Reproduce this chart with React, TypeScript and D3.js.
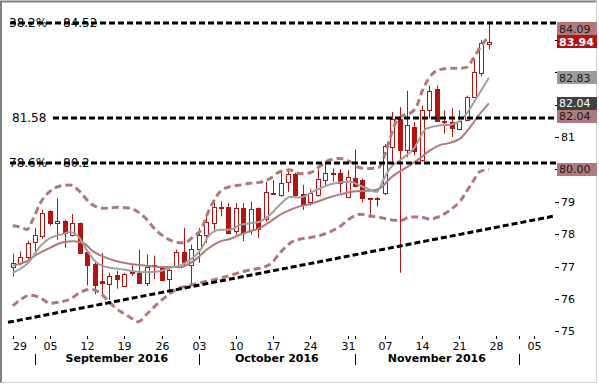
import React from 'react';
import * as d3 from 'd3';

const W = 599;
const H = 385;

// daily candles, trading days 29 Aug 2016 .. 25 Nov 2016
const opens = [
  77.0, 77.12, 77.3, 77.75, 77.93, 78.72, 78.36, 78.42, 77.99, 78.34,
  77.44, 77.07, 76.57, 76.47, 76.73, 76.4, 76.85, 76.81, 76.48, 77.02,
  76.96, 76.61, 77.0, 77.46, 77.04, 77.53, 77.99, 78.36, 78.85, 78.84,
  78.09, 78.81, 78.14, 78.81, 78.47, 79.26, 79.21, 79.6, 79.85, 79.24,
  78.98, 79.21, 79.67, 79.88, 79.88, 79.16, 79.73, 79.67, 79.12, 79.12,
  79.27, 80.7, 81.57, 80.59, 81.31, 80.29, 81.84, 82.49, 81.51, 81.46,
  81.26, 81.54, 82.25, 82.98, 83.87,
];
const highs = [
  77.4, 77.47, 77.8, 78.19, 78.75, 78.74, 79.11, 78.45, 78.62, 78.36,
  77.46, 77.17, 77.42, 76.81, 76.86, 76.81, 77.07, 77.53, 77.37, 77.34,
  77.01, 76.96, 77.53, 78.19, 77.68, 78.19, 78.55, 79.01, 79.01, 78.96,
  78.96, 78.96, 79.01, 78.83, 79.62, 79.67, 79.98, 80.03, 79.9, 79.52,
  79.39, 80.0, 80.19, 80.03, 80.0, 79.98, 80.62, 79.72, 79.13, 79.15,
  80.78, 81.77, 81.92, 82.43, 81.46, 81.97, 82.59, 82.59, 81.82, 81.89,
  81.82, 82.28, 83.43, 84.0, 84.58,
];
const lows = [
  76.69, 77.04, 77.22, 77.44, 77.86, 78.27, 77.83, 77.58, 77.93, 77.4,
  76.42, 76.15, 76.15, 75.97, 76.32, 76.38, 76.71, 76.46, 76.4, 76.61,
  76.56, 76.3, 76.98, 77.0, 76.45, 77.12, 77.73, 78.09, 78.55, 78.02,
  77.99, 77.78, 77.99, 77.88, 78.39, 79.21, 79.16, 79.31, 79.16, 78.75,
  78.88, 79.16, 79.47, 79.62, 79.28, 79.14, 79.47, 78.98, 78.5, 78.85,
  79.2, 80.24, 76.81, 80.38, 80.44, 80.24, 81.57, 81.46, 81.11, 81.0,
  81.21, 81.51, 82.23, 82.87, 83.71,
];
const closes = [
  77.12, 77.3, 77.73, 77.99, 78.65, 78.36, 78.4, 78.04, 78.34, 77.42,
  77.04, 76.42, 76.48, 76.71, 76.61, 76.78, 76.81, 76.48, 77.0, 77.04,
  76.58, 76.89, 77.44, 77.14, 77.55, 77.99, 78.39, 78.85, 78.83, 78.04,
  78.81, 78.04, 78.77, 78.16, 79.31, 79.24, 79.57, 79.85, 79.21, 78.91,
  79.28, 79.69, 79.9, 79.86, 79.59, 79.76, 79.49, 79.11, 79.1, 79.1,
  80.72, 81.57, 80.59, 81.36, 80.57, 81.84, 82.43, 81.51, 81.48, 81.28,
  81.51, 82.25, 83.0, 83.9, 83.94,
];

// indicator lines: [trading day index, value]
const fastMa: [number, number][] = [
  [0, 76.81], [2.3, 77.17], [3.7, 77.63], [5, 77.88], [6.8, 78.01], [7.7, 78.07],
  [9, 77.88], [9.9, 77.53], [11.3, 77.12], [13.1, 76.96], [14.4, 76.93], [16.2, 76.86],
  [18, 76.83], [19.8, 76.86], [21.1, 76.96], [22.5, 77.04], [23.8, 77.2], [25.2, 77.5],
  [26.5, 77.99], [27.9, 78.14], [29.2, 78.14], [30.6, 78.29], [31.9, 78.34], [33.2, 78.39],
  [34.6, 78.6], [35.9, 78.91], [37.3, 79.15], [38.6, 79.13], [40.4, 79.32], [42.2, 79.5],
  [43.5, 79.58], [45.3, 79.62], [46.7, 79.5], [47.6, 79.42], [48.9, 79.3], [49.8, 79.67],
  [50.7, 80.03], [52.1, 80.29], [53.9, 80.64], [55.6, 81.26], [57.4, 81.36], [58.8, 81.38],
  [59.9, 81.46], [61, 81.72], [62.4, 82.23], [64, 82.83],
];
const midLine: [number, number][] = [
  [0, 77.03], [1.9, 77.17], [3.2, 77.37], [5, 77.58], [6.8, 77.75], [8.2, 77.78],
  [9.5, 77.73], [10.8, 77.47], [12.6, 77.27], [14.4, 77.14], [16.2, 77.07], [18, 77.03],
  [19.8, 76.99], [21.6, 76.99], [22.5, 76.98], [24.3, 77.17], [26.1, 77.53], [27.9, 77.78],
  [29.2, 77.85], [30.6, 77.99], [31.9, 78.09], [33.2, 78.19], [34.6, 78.39], [35.9, 78.6],
  [37.3, 78.75], [38.6, 78.86], [40.4, 78.96], [42.2, 79.11], [44, 79.23], [45.8, 79.32],
  [47.6, 79.34], [48.9, 79.37], [49.8, 79.5], [50.7, 79.72], [52.1, 79.95], [53.4, 80.13],
  [54.7, 80.34], [56.1, 80.59], [57.4, 80.75], [58.8, 80.82], [60.1, 80.95], [61.5, 81.31],
  [62.8, 81.72], [64, 82.04],
];
const upperBand: [number, number][] = [
  [0, 78.26], [1.4, 78.19], [1.9, 78.14], [2.8, 78.5], [3.7, 78.96], [5, 79.32],
  [6.4, 79.49], [7.7, 79.52], [9, 79.32], [10.4, 78.96], [12.2, 78.8], [14, 78.83],
  [15.8, 78.8], [17.6, 78.55], [19.4, 78.09], [21.6, 77.78], [23, 77.73], [24.3, 77.93],
  [25.2, 78.1], [26.5, 78.8], [27.9, 79.32], [29.2, 79.47], [30.6, 79.52], [31.9, 79.57],
  [33.2, 79.6], [34.6, 79.72], [35.9, 79.93], [37.3, 79.98], [38.6, 79.87], [40, 79.9],
  [41.3, 80.1], [42.7, 80.3], [44, 80.34], [45.3, 80.24], [46.7, 80.05], [48, 80.03],
  [49.2, 80.06], [50, 80.45], [50.7, 80.95], [51.6, 81.5], [52.5, 81.67], [53.5, 81.75],
  [54.3, 81.95], [55, 82.4], [55.9, 82.8], [57, 83.05], [58.5, 83.12], [60, 83.12],
  [61, 83.15], [61.9, 83.42], [62.8, 83.76], [63.7, 84.02], [64, 84.09],
];
const lowerBand: [number, number][] = [
  [0, 75.79], [1, 75.97], [2.3, 76.12], [3.7, 76.04], [5, 75.87], [6.4, 75.91],
  [7.7, 75.99], [9, 76.2], [10.4, 76.3], [11.7, 76.2], [13.1, 75.87], [14.4, 75.63],
  [15.8, 75.43], [16.9, 75.3], [18, 75.53], [19.4, 75.84], [20.7, 76.09], [22, 76.3],
  [23.4, 76.4], [25.2, 76.5], [28, 76.65], [31, 76.85], [34.6, 77.07], [35.9, 77.42],
  [37.3, 77.73], [38.6, 77.85], [40, 77.9], [41.3, 77.96], [42.7, 78.08], [44, 78.24],
  [45.3, 78.48], [46.7, 78.62], [48, 78.56], [49.4, 78.52], [50.7, 78.45], [52.1, 78.42],
  [53.4, 78.53], [54.7, 78.53], [56.1, 78.47], [57.4, 78.55], [58.8, 78.75], [60.1, 79.01],
  [61, 79.32], [61.7, 79.57], [62.8, 79.93], [64, 80.0],
];

// fibonacci levels and the support trendline
const fibValues = [84.52, 81.58, 80.2];
const fibPercents = ['38.2%', '', '78.6%'];
const trendDays = [-0.63, 72.97];
const trendValues = [75.28, 78.57];

// price tags on the right axis
const tagValues = [84.09, 83.94, 82.83, 82.04, 82.04, 80.0];
const tagKinds = ['band', 'close', 'fast', 'mid', 'band', 'band'];

const yTicks = [75, 76, 77, 78, 79, 80, 81, 82, 83, 84];

const RED = '#b21414';
const BROWN = '#b07a7a';
const GREY = '#a0a0a0';
const FONT = '"DejaVu Sans", Verdana, sans-serif';

const tagStyle: Record<string, { bg: string; fg: string; bold?: boolean }> = {
  band: { bg: BROWN, fg: '#1a1a1a' },
  close: { bg: RED, fg: '#fff', bold: true },
  fast: { bg: '#9c9c9c', fg: '#1a1a1a' },
  mid: { bg: '#404040', fg: '#fff' },
};

const start = new Date(2016, 7, 29);
const tradingDays = d3.timeDay
  .range(start, new Date(2016, 11, 12))
  .filter(d => d.getDay() !== 0 && d.getDay() !== 6);
const dayIndex = (d: Date) => tradingDays.findIndex(t => t >= d);

const App: React.FC = () => {
  const x = d3.scaleLinear().domain([0, 64]).range([12.7, 488.9]);
  const y = d3.scaleLinear().domain([75, 84.52]).range([331.4, 23]);
  const plotLeft = 8;
  const plotRight = 556;

  const line = d3
    .line<[number, number]>()
    .x(d => x(d[0]))
    .y(d => y(d[1]))
    .curve(d3.curveMonotoneX);

  const weekTicks = d3.timeMonday.range(start, new Date(2016, 11, 6));
  const monthStarts = d3.timeMonth.range(new Date(2016, 8, 1), new Date(2016, 11, 2));
  const monthIdx = monthStarts.map(dayIndex);
  const fmtDay = d3.timeFormat('%d');
  const fmtMonth = d3.timeFormat('%B %Y');

  // stack the price tags so they don't overlap, last close stays put
  const tags = tagValues.map((v, i) => ({ v, kind: tagKinds[i], pos: y(v) }));
  const anchor = tagKinds.indexOf('close');
  for (let i = anchor - 1; i >= 0; i--) tags[i].pos = Math.min(tags[i].pos, tags[i + 1].pos - 13);
  for (let i = anchor + 1; i < tags.length; i++) tags[i].pos = Math.max(tags[i].pos, tags[i - 1].pos + 13);

  // tick labels that sit under a tag are covered in the original
  const covered = (t: number) => tags.some(tg => Math.abs(tg.pos - y(t)) < 11);

  return (
    <div style={{ position: 'fixed', left: 0, top: 0 }}>
      <svg width={W} height={H} style={{ display: 'block', background: '#fff' }} fontFamily={FONT}>
        {/* frame */}
        <path d={`M1,${H - 2} V1.5 H${W - 2}`} fill="none" stroke="#808080" strokeWidth={2} />
        <path d={`M1,${H - 2.5} H${W - 2.5} V1`} fill="none" stroke="#d4d0c8" strokeWidth={1} />

        {/* candles */}
        {opens.map((o, i) => {
          const c = closes[i];
          const px = Math.round(x(i));
          const top = Math.round(y(Math.max(o, c)));
          const bot = Math.round(y(Math.min(o, c)));
          const bear = c < o;
          return (
            <g key={i}>
              <line x1={px + 0.5} x2={px + 0.5} y1={y(highs[i])} y2={y(lows[i])} stroke={RED} strokeWidth={1} />
              <rect
                x={px - 1.5}
                y={top + 0.5}
                width={4}
                height={Math.max(bot - top, 1)}
                fill={bear ? RED : '#fff'}
                stroke={RED}
                strokeWidth={1}
              />
            </g>
          );
        })}

        {/* bands and averages */}
        <path d={line(upperBand) || ''} fill="none" stroke={BROWN} strokeWidth={3} strokeDasharray="7,4" />
        <path d={line(lowerBand) || ''} fill="none" stroke={BROWN} strokeWidth={3} strokeDasharray="7,4" />
        <path d={line(midLine) || ''} fill="none" stroke={BROWN} strokeWidth={2} />
        <path d={line(fastMa) || ''} fill="none" stroke={GREY} strokeWidth={2} />

        {/* trendline */}
        <line
          x1={x(trendDays[0])}
          y1={y(trendValues[0])}
          x2={x(trendDays[1])}
          y2={y(trendValues[1])}
          stroke="#000"
          strokeWidth={3}
          strokeDasharray="6,3"
        />

        {/* fib levels */}
        {fibValues.map((v, i) => {
          const yy = Math.round(y(v));
          const label = fibPercents[i];
          return (
            <g key={v}>
              <line
                x1={label ? plotLeft + 2 : plotLeft + 45}
                x2={plotRight}
                y1={yy}
                y2={yy}
                stroke="#000"
                strokeWidth={3}
                strokeDasharray="6,3"
              />
              {label && (
                <text x={plotLeft + 1} y={yy + 4} fontSize={12} fill="#000">
                  {label}
                </text>
              )}
              <text x={label ? plotLeft + 55 : plotLeft + 4} y={yy + 4} fontSize={12} fill="#000">
                {String(v)}
              </text>
            </g>
          );
        })}

        {/* right axis */}
        {yTicks.map(t => (
          <g key={t}>
            <line x1={555} x2={559} y1={Math.round(y(t)) + 0.5} y2={Math.round(y(t)) + 0.5} stroke="#000" />
            {!covered(t) && (
              <text x={561} y={y(t) + 4} fontSize={11} fill="#000">
                {t}
              </text>
            )}
          </g>
        ))}
        {tags.map((t, i) => {
          const st = tagStyle[t.kind];
          return (
            <g key={i}>
              <rect x={557} y={Math.round(t.pos - 6.5)} width={40} height={13} fill={st.bg} />
              <text
                x={559}
                y={Math.round(t.pos) + 4}
                fontSize={11}
                fill={st.fg}
                fontWeight={st.bold ? 'bold' : 'normal'}
              >
                {t.v.toFixed(2)}
              </text>
            </g>
          );
        })}

        {/* bottom axis */}
        {weekTicks.map(d => {
          const xx = Math.round(x(dayIndex(d))) + 0.5;
          return (
            <g key={+d}>
              <line x1={xx} x2={xx} y1={336} y2={339} stroke="#000" />
              <text x={Math.max(xx, 20)} y={350} fontSize={11} textAnchor="middle" fill="#000">
                {fmtDay(d)}
              </text>
            </g>
          );
        })}
        {monthIdx.map((mi, k) => {
          const xx = Math.round(x(mi)) + 0.5;
          const next = monthIdx[k + 1];
          return (
            <g key={mi}>
              <line x1={xx} x2={xx} y1={336} y2={339} stroke="#000" />
              <line x1={xx} x2={xx} y1={354} y2={365} stroke="#000" />
              {next !== undefined && (
                <text
                  x={(x(mi) + x(next)) / 2}
                  y={362}
                  fontSize={11}
                  fontWeight="bold"
                  textAnchor="middle"
                  fill="#000"
                >
                  {fmtMonth(monthStarts[k])}
                </text>
              )}
            </g>
          );
        })}
      </svg>
    </div>
  );
};

export default App;
